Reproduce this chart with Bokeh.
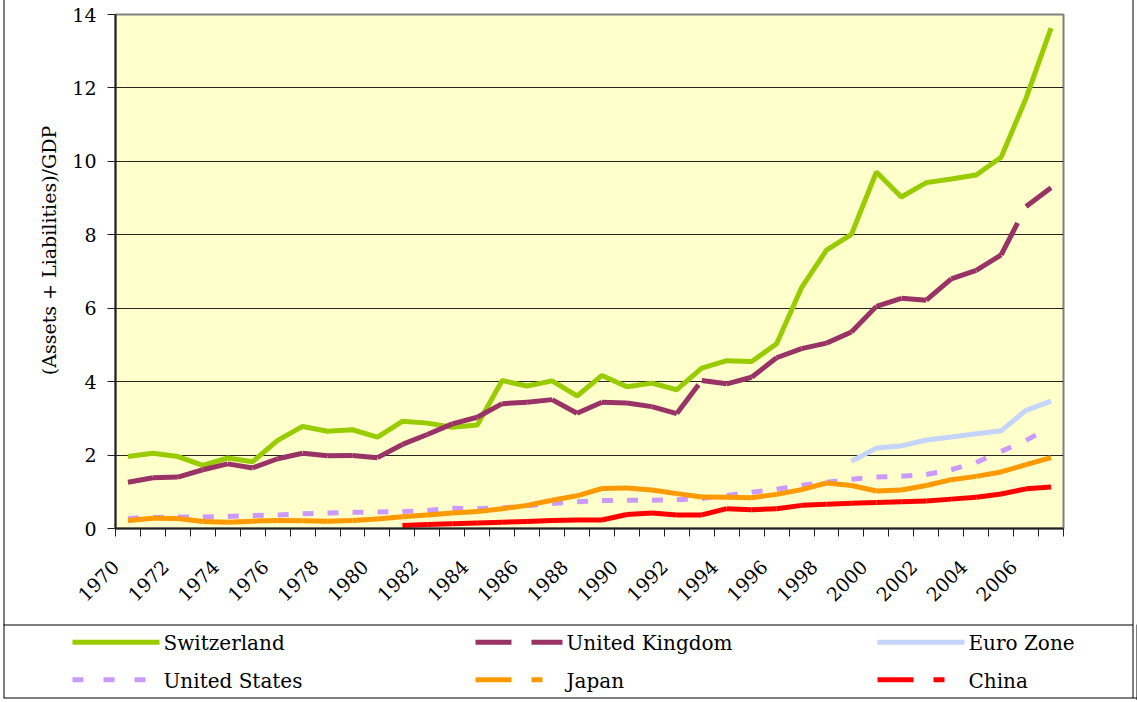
from math import pi
from bokeh.plotting import figure
from bokeh.layouts import column
from bokeh.models import Range1d, FixedTicker
from bokeh.embed import file_html
from bokeh.resources import INLINE
from bokeh.core.properties import value

years = list(range(1970, 2008))
year_labels = [str(y) for y in range(1970, 2007, 2)]

switzerland = [1.96, 2.05, 1.96, 1.72, 1.92, 1.82, 2.40, 2.78, 2.65, 2.69, 2.49, 2.92, 2.87, 2.76, 2.82,
               4.03, 3.88, 4.02, 3.61, 4.17, 3.86, 3.96, 3.78, 4.37, 4.57, 4.55, 5.03,
               6.56, 7.58, 8.01, 9.71, 9.03, 9.42, 9.52, 9.63, 10.11, 11.72, 13.63]
united_kingdom = [1.26, 1.38, 1.40, 1.60, 1.76, 1.65, 1.90, 2.05, 1.98, 1.99, 1.93, 2.29, 2.56,
                  2.85, 3.03, 3.40, 3.44, 3.51, 3.14, 3.44, 3.42, 3.32, 3.13, 4.03, 3.94, 4.12, 4.65,
                  4.90, 5.05, 5.35, 6.05, 6.27, 6.22, 6.80, 7.03, 7.45, 8.77, 9.28]
euro_zone = [None] * 29 + [1.83, 2.19, 2.25, 2.41, 2.49, 2.58, 2.66, 3.22, 3.47]
united_states = [0.27, 0.30, 0.31, 0.31, 0.33, 0.35, 0.37, 0.40, 0.42, 0.44,
                 0.45, 0.46, 0.49, 0.55, 0.54, 0.56, 0.62, 0.68, 0.73, 0.76,
                 0.77, 0.77, 0.78, 0.82, 0.90, 0.99, 1.07, 1.18, 1.26, 1.34,
                 1.40, 1.42, 1.47, 1.60, 1.80, 2.10, 2.40, 2.77]
japan = [0.22, 0.28, 0.27, 0.19, 0.17, 0.20, 0.22, 0.21, 0.20, 0.22,
         0.26, 0.32, 0.37, 0.42, 0.46, 0.54, 0.63, 0.77, 0.89, 1.09,
         1.10, 1.05, 0.95, 0.86, 0.85, 0.84, 0.93, 1.06, 1.24, 1.17,
         1.02, 1.05, 1.17, 1.33, 1.42, 1.54, 1.74, 1.93]
china = [None] * 11 + [0.08, 0.11, 0.13, 0.15, 0.17, 0.19, 0.22, 0.23, 0.23,
                      0.38, 0.42, 0.37, 0.37, 0.54, 0.51, 0.54, 0.63, 0.66, 0.69,
                      0.71, 0.73, 0.75, 0.80, 0.85, 0.94, 1.08, 1.13]

FONT = "DejaVu Serif"
n = len(years)
xc = [i + 0.5 for i in range(n)]  # category centres; category boundaries are integers

# layout in page pixels
W, H_MAIN, H_LEG = 1137, 624, 76
FL, FT, FW, FH = 115, 14, 948, 514      # plot frame left/top/width/height
Y_MAX = 14


def px2x(px):
    return (px - FL) * n / FW


def py2y(py):
    return (FT + FH - py) * Y_MAX / FH


p = figure(width=W, height=H_MAIN, x_range=Range1d(0, n), y_range=Range1d(0, Y_MAX),
           output_backend="svg", toolbar_location=None,
           min_border_left=FL, min_border_right=W - FL - FW, min_border_top=FT,
           min_border_bottom=H_MAIN - FT - FH,
           background_fill_color="#FFFFCC", border_fill_color="white")
p.outline_line_color = "#808080"
p.outline_line_width = 2

p.yaxis.ticker = FixedTicker(ticks=list(range(0, Y_MAX + 1, 2)), minor_ticks=[])
p.xaxis.ticker = FixedTicker(ticks=list(range(0, n - 1, 2)), minor_ticks=list(range(1, n, 2)) + [n])
p.xaxis.major_label_overrides = {2 * k: lab for k, lab in enumerate(year_labels)}
p.xaxis.major_label_orientation = pi / 4
for ax in (p.xaxis[0], p.yaxis[0]):
    ax.axis_line_color = "#222222"
    ax.axis_line_width = 2
    ax.major_tick_line_color = "#222222"
    ax.minor_tick_line_color = "#222222"
    ax.major_tick_in = 0
    ax.major_tick_out = 8
    ax.minor_tick_in = 0
    ax.minor_tick_out = 8
    ax.major_label_text_font = FONT
    ax.major_label_text_font_size = "19px"
    ax.major_label_text_color = "black"
p.yaxis.major_label_standoff = 11
p.xaxis.major_label_standoff = 27

p.xgrid.visible = False
p.ygrid.ticker = FixedTicker(ticks=list(range(2, Y_MAX, 2)))
p.ygrid.grid_line_color = "black"
p.ygrid.grid_line_width = 1
p.ygrid.grid_line_alpha = 0.85


def segs(vals):
    x0, y0, x1, y1 = [], [], [], []
    for i in range(len(vals) - 1):
        if vals[i] is not None and vals[i + 1] is not None:
            x0.append(xc[i]); y0.append(vals[i]); x1.append(xc[i + 1]); y1.append(vals[i + 1])
    return dict(x0=x0, y0=y0, x1=x1, y1=y1)


def pts(vals):
    xs = [xc[i] for i, v in enumerate(vals) if v is not None]
    ys = [v for v in vals if v is not None]
    return xs, ys


LW = 5
p.line(xc, switzerland, line_color="#99CC00", line_width=LW)
p.segment(source=segs(united_kingdom), x0="x0", y0="y0", x1="x1", y1="y1",
          line_color="#993366", line_width=LW, line_dash="36 20")
ex, ey = pts(euro_zone)
p.line(ex, ey, line_color="#C5D4FA", line_width=LW)
p.segment(source=segs(united_states), x0="x0", y0="y0", x1="x1", y1="y1",
          line_color="#CC99FF", line_width=LW, line_dash="11 20")
p.segment(source=segs(japan), x0="x0", y0="y0", x1="x1", y1="y1",
          line_color="#FF9900", line_width=LW, line_dash="36 20 11 20")
p.segment(source=segs(china), x0="x0", y0="y0", x1="x1", y1="y1",
          line_color="#FF0000", line_width=LW, line_dash="36 20 11 20")

# y axis title and outer frame lines (drawn outside the plot frame)
p.text(x=[px2x(48)], y=[py2y(250)], text=["(Assets + Liabilities)/GDP"], angle=pi / 2,
       text_align="center", text_baseline="middle", text_font=value(FONT),
       text_font_size="19px", text_color="black", level="overlay")
p.segment(x0=[px2x(3.5), px2x(1132.5)], y0=[py2y(-5), py2y(-5)],
          x1=[px2x(3.5), px2x(1132.5)], y1=[py2y(H_MAIN + 5), py2y(H_MAIN + 5)],
          line_color="black", line_width=1, level="overlay")

# legend panel (data coordinates equal page pixels)
names = ["Switzerland", "United Kingdom", "Euro Zone", "United States", "Japan", "China"]
colors = ["#99CC00", "#993366", "#C5D4FA", "#CC99FF", "#FF9900", "#FF0000"]
dashes = ["solid", "36 20", "solid", "11 20", "36 20 11 20", "36 20 11 20"]
col_x = [72, 475, 877]
row_y = [641.7, 679.3]

leg = figure(width=W, height=H_LEG, x_range=Range1d(FL, FL + FW), y_range=Range1d(H_MAIN + H_LEG, H_MAIN),
             output_backend="svg", toolbar_location=None,
             min_border_left=FL, min_border_right=W - FL - FW, min_border_top=0, min_border_bottom=0,
             x_axis_location=None, y_axis_location=None, border_fill_color="white",
             background_fill_color="white")
leg.grid.visible = False
leg.outline_line_color = None
for k, (nm, c, d) in enumerate(zip(names, colors, dashes)):
    cx = col_x[k % 3]
    ry = row_y[k // 3]
    leg.segment(x0=[cx], y0=[ry], x1=[cx + 87], y1=[ry],
                line_color=c, line_width=LW, line_dash=d, level="overlay")
    leg.text(x=[cx + 91], y=[ry + 1], text=[nm], text_font=value(FONT),
             text_font_size="20px", text_color="black", text_baseline="middle",
             text_align="left", level="overlay")
leg.segment(x0=[3, 3, 3.5, 1132.5, 1136.5], y0=[624.5, 697.5, 620, 620, 624],
            x1=[1132.5, 1137, 3.5, 1132.5, 1136.5], y1=[624.5, 697.5, 697.5, 697.5, 700],
            line_color="black", line_width=1, level="overlay")

layout = column(p, leg, spacing=0)
open("out.html", "w").write(file_html(layout, INLINE))
